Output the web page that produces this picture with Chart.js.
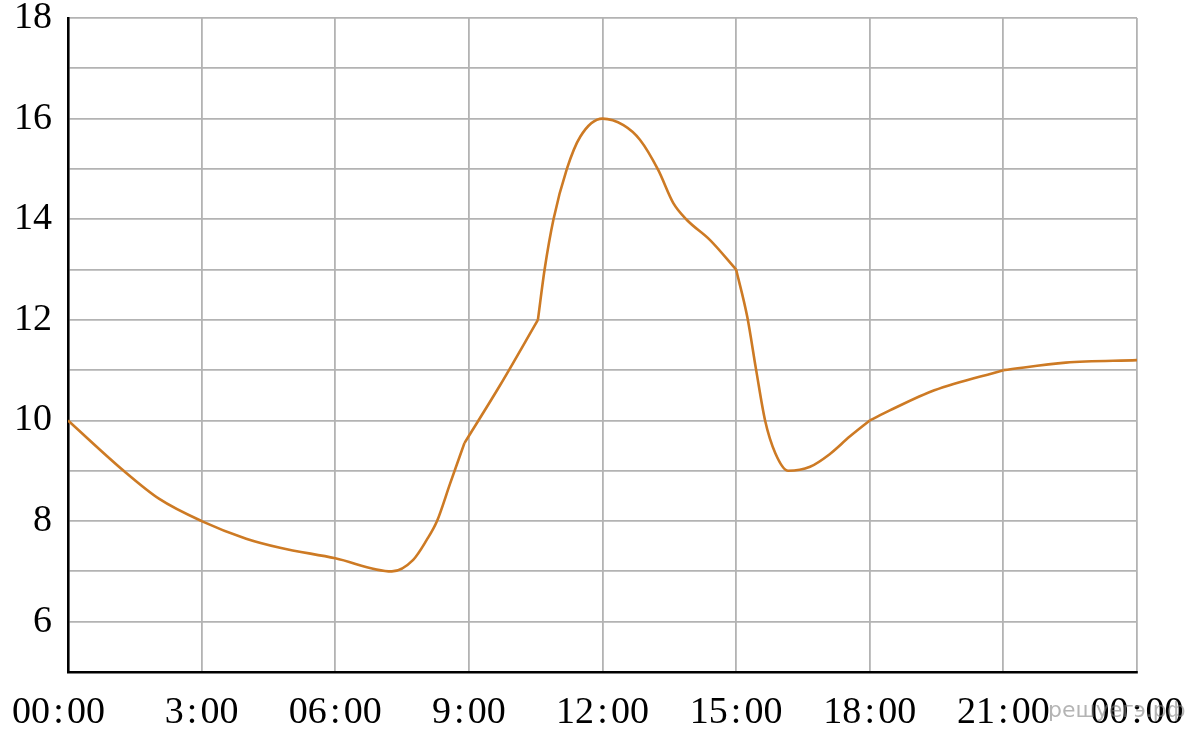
<!DOCTYPE html>
<html>
<head>
<meta charset="utf-8">
<script src="https://cdn.jsdelivr.net/npm/chart.js@4/dist/chart.umd.min.js"></script>
<style>
    body { margin: 0; background: #fff; }
    #wrap { width: 1200px; height: 736px; position: relative; }
</style>
</head>
<body>
<div id="wrap"><canvas id="tempChart"></canvas></div>
<script>
// Values
const hours = [0, 1.25, 2.05, 3, 4, 4.76, 6, 7.27, 7.75, 8.05, 8.28, 8.58, 8.9, 9.7,
    10.55, 10.7, 10.9, 11.2, 11.5, 12, 12.47, 12.84, 13.25, 13.59, 13.89, 14.41, 15,
    15.25, 15.45, 15.65, 15.88, 16.17, 16.66, 17.1, 17.55, 18, 18.45, 19.45, 21, 22.4, 24];
const temps = [10, 9.0, 8.44, 8.0, 7.65, 7.47, 7.26, 7.0, 7.23, 7.62, 7.99, 8.75, 9.55, 10.7,
    12.0, 13.0, 14.0, 15.0, 15.64, 16, 15.87, 15.58, 14.98, 14.32, 13.99, 13.59, 13.0,
    12.06, 11.0, 10.0, 9.35, 9.0, 9.08, 9.33, 9.68, 10, 10.2, 10.6, 11, 11.15, 11.2];
// the curve has corners at these hours
const kinkHours = [8.9, 10.55, 15, 18, 21];
const xTickLabels = ['00:00', '3:00', '06:00', '9:00', '12:00', '15:00', '18:00', '21:00', '00:00'];
const yTickLabels = [6, 8, 10, 12, 14, 16, 18];

const serif = "'Liberation Serif', 'Times New Roman', serif";

// split the curve into smooth pieces that meet at the corners
function buildSegments() {
    const segs = [];
    let cur = [];
    hours.forEach((h, i) => {
        cur.push({ x: h, y: temps[i] });
        if (kinkHours.includes(h)) {
            segs.push(cur);
            cur = [{ x: h, y: temps[i] }];
        }
    });
    segs.push(cur);
    return segs.map(pts => ({
        data: pts,
        borderColor: '#CD7A24',
        borderWidth: 2.6,
        pointRadius: 0,
        fill: false,
        cubicInterpolationMode: 'monotone'
    }));
}

// faint site watermark in the bottom-right corner
const watermark = {
    id: 'watermark',
    afterDraw(chart) {
        const ctx = chart.ctx;
        ctx.save();
        ctx.font = "22px 'DejaVu Sans', sans-serif";
        ctx.fillStyle = 'rgba(130, 130, 130, 0.6)';
        ctx.textBaseline = 'middle';
        ctx.fillText('решуегэ.рф', 1048, 711);
        ctx.restore();
    }
};

function xLabel(value) {
    let s = (xTickLabels[value / 3] || '').replace(':', '\u200a:\u200a');
    // first label sits a little left of its grid line
    if (value === 0) s += '\u2002';
    return s;
}

document.addEventListener('DOMContentLoaded', function() {
    const ctx = document.getElementById('tempChart');
    new Chart(ctx, {
        type: 'line',
        data: { datasets: buildSegments() },
        options: {
            responsive: true,
            maintainAspectRatio: false,
            animation: false,
            layout: {
                autoPadding: false,
                padding: { top: 18, right: 63, left: 0, bottom: 0 }
            },
            plugins: {
                legend: { display: false },
                tooltip: { enabled: false }
            },
            scales: {
                x: {
                    type: 'linear',
                    min: 0,
                    max: 24,
                    afterFit: scale => {
                        scale.height = 64;
                        scale.paddingLeft = 0;
                        scale.paddingRight = 0;
                    },
                    grid: { color: '#b3b3b3', lineWidth: 1.8, drawTicks: false },
                    border: { color: '#000', width: 2.6 },
                    ticks: {
                        stepSize: 3,
                        autoSkip: false,
                        maxRotation: 0,
                        padding: 18,
                        color: '#000',
                        font: { family: serif, size: 38 },
                        callback: xLabel
                    }
                },
                y: {
                    min: 5,
                    max: 18,
                    afterFit: scale => {
                        scale.width = 68;
                        scale.paddingTop = 0;
                        scale.paddingBottom = 0;
                    },
                    grid: { color: '#b3b3b3', lineWidth: 1.8, drawTicks: false },
                    border: { color: '#000', width: 2.6 },
                    ticks: {
                        stepSize: 1,
                        autoSkip: false,
                        padding: 16,
                        color: '#000',
                        font: { family: serif, size: 38 },
                        callback: value => yTickLabels.includes(value) ? String(value) : ''
                    }
                }
            }
        },
        plugins: [watermark]
    });
});
</script>
</body>
</html>
